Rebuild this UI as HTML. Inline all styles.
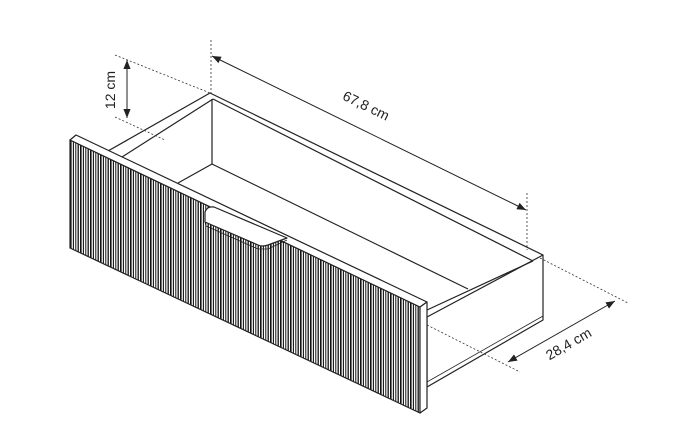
<!DOCTYPE html>
<html><head><style>html,body{margin:0;padding:0;background:#fff}svg{display:block}</style></head><body>
<svg width="673" height="423" viewBox="0 0 673 423" xmlns="http://www.w3.org/2000/svg" font-family="Liberation Sans, sans-serif">
<defs>
<pattern id="fl" x="70" y="0" width="10" height="423" patternUnits="userSpaceOnUse">
<rect width="10" height="423" fill="#fff"/>
<line x1="0.8" y1="0" x2="0.8" y2="423" stroke="#111" stroke-width="1.6"/>
<line x1="3.4" y1="0" x2="3.4" y2="423" stroke="#111" stroke-width="1.1"/>
<line x1="5.8" y1="0" x2="5.8" y2="423" stroke="#111" stroke-width="1"/>
<line x1="8.2" y1="0" x2="8.2" y2="423" stroke="#111" stroke-width="1.3"/>
</pattern>
<marker id="ar" viewBox="0 0 10 10" refX="10" refY="5" markerWidth="9" markerHeight="9" orient="auto-start-reverse" markerUnits="userSpaceOnUse"><path d="M0,1 L10,5 L0,9 Z" fill="#222"/></marker>
</defs>
<g fill="none" stroke="#222" stroke-width="1.2" stroke-linejoin="round">
<line x1="210" y1="93" x2="108" y2="151"/>
<line x1="213" y1="99" x2="122" y2="157"/>
<line x1="210" y1="93" x2="543" y2="255"/>
<line x1="213" y1="99" x2="533" y2="261"/>
<line x1="212" y1="99" x2="212" y2="164"/>
<line x1="212" y1="164" x2="178" y2="183"/>
<line x1="212" y1="164" x2="468" y2="289"/>
<polygon points="543,255 543,320 427,387 427,317" fill="#fff"/>
<line x1="427" y1="310" x2="533" y2="261"/>
<line x1="427" y1="382" x2="543" y2="316" stroke-width="0.8"/>
<polygon points="70,140 420,307 420,413 70,248" fill="url(#fl)"/>
<polygon points="70,140 76,135 427,302 420,307" fill="#fff"/>
<polygon points="420,307 427,302 427,408 420,413" fill="#fff"/>
<path d="M205,212 Q207,206 214,207 L287,238 L268,245 Q262,247 258,245 L205,222 Z" fill="#fff"/>
<path d="M205,222 L206,226 L258,249 L268,249 L287,240" stroke-width="0.8"/>
</g>
<g stroke="#333" stroke-width="0.8" stroke-dasharray="2,2" fill="none">
<line x1="115" y1="55" x2="210" y2="93"/>
<line x1="115" y1="117" x2="165" y2="140"/>
<line x1="211" y1="40" x2="211" y2="93"/>
<line x1="527" y1="193" x2="527" y2="250"/>
<line x1="540" y1="258" x2="628" y2="303"/>
<line x1="427" y1="325" x2="520" y2="372"/>
</g>
<g stroke="#222" stroke-width="1" fill="none">
<line x1="127" y1="60" x2="127" y2="118" marker-start="url(#ar)" marker-end="url(#ar)"/>
<line x1="212" y1="56" x2="526" y2="210" marker-start="url(#ar)" marker-end="url(#ar)"/>
<line x1="508" y1="362" x2="615" y2="301" marker-start="url(#ar)" marker-end="url(#ar)"/>
</g>
<g fill="#222" font-size="14">
<text transform="translate(115,90) rotate(-90)" text-anchor="middle">12 cm</text>
<text transform="translate(364,110) rotate(26)" text-anchor="middle">67,8 cm</text>
<text transform="translate(571,348) rotate(-30)" text-anchor="middle">28,4 cm</text>
</g>
</svg>
</body></html>
